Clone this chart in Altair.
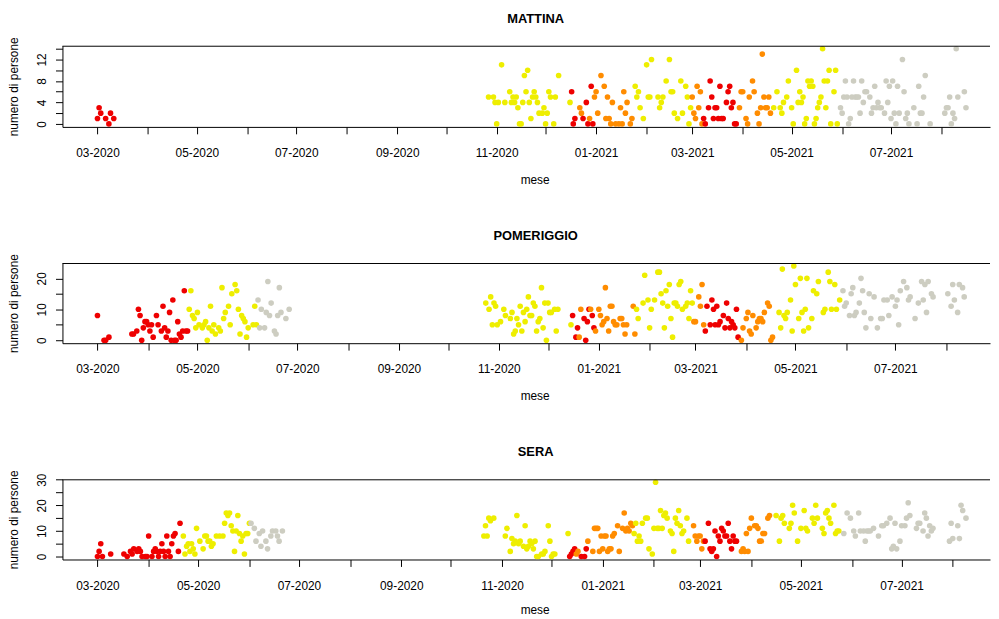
import altair as alt
import pandas as pd

BASE = pd.Timestamp("2020-03-01")  # giorno 0
FONT = "Liberation Sans"
ZONE = ["rossa", "arancione", "gialla", "bianca"]
COLORI = ["#EE0000", "#FF8C00", "#EEEE00", "#CDCDC1"]

# ---------------- MATTINA ----------------
mattina_rossa_giorni = [0, 1, 2, 5, 7, 8, 10,
                        291, 292, 293, 298, 300, 301, 303, 304,
                        372, 373, 375, 376, 377, 378, 379, 380, 381, 382, 383, 384, 386, 387, 388, 389, 390, 391, 392]
mattina_rossa_valori = [1, 3, 2, 1, 0, 2, 1,
                        6, 0, 1, 1, 4, 0, 7, 0,
                        1, 0, 3, 8, 5, 1, 3, 3, 1, 7, 1, 1, 4, 6, 7, 3, 4, 0, 0]
mattina_arancione_giorni = [296, 297, 302, 305, 306, 307, 309, 311, 312, 313, 314, 315, 316, 318, 320, 321, 322, 323, 324, 325, 327, 328,
                            365, 366, 367, 368, 369, 370, 371,
                            394, 395, 396, 398, 399, 400, 402, 403, 405, 406, 407, 408, 409, 410, 411, 412, 413]
mattina_arancione_valori = [3, 2, 1, 5, 6, 2, 9, 7, 1, 5, 1, 0, 4, 0, 0, 3, 0, 6, 2, 4, 0, 1,
                            5, 2, 1, 7, 3, 6, 0,
                            3, 6, 6, 1, 0, 5, 8, 6, 2, 0, 3, 13, 5, 3, 3, 5, 2]
mattina_gialla_giorni = [240, 243, 244, 245, 246, 248, 250, 253, 254, 255, 256, 257, 258, 259, 260, 261, 262, 263, 264, 265,
                         266, 267, 268, 269, 270, 271, 273, 274, 275, 276, 277, 278, 280, 281, 283, 290,
                         330, 331, 332, 333, 335, 337, 338, 339, 340, 344, 345, 346, 347, 349, 351, 352, 353, 354, 356, 358,
                         359, 361, 362, 363, 364,
                         415, 417, 419, 420, 421, 423, 424, 426, 427, 429, 430, 431, 432, 433, 434, 435, 436, 437, 438, 439,
                         440, 441, 442, 443, 444, 445, 446, 447, 448, 449, 450, 452, 453, 454]
mattina_gialla_valori = [5, 5, 4, 0, 4, 11, 4, 6, 4, 5, 4, 5, 3, 0, 0, 4, 9, 6, 10, 4,
                         1, 5, 6, 5, 4, 2, 2, 3, 0, 2, 6, 5, 0, 5, 9, 4,
                         7, 5, 6, 3, 1, 11, 5, 5, 12, 5, 3, 4, 5, 8, 12, 6, 6, 2, 1, 8,
                         2, 7, 5, 0, 3,
                         3, 6, 3, 2, 4, 5, 8, 3, 0, 10, 4, 6, 4, 5, 0, 1, 8, 7, 8, 7,
                         0, 1, 3, 4, 5, 14, 8, 3, 8, 10, 0, 6, 10, 0]
mattina_bianca_giorni = [456, 457, 458, 459, 460, 461, 462, 463, 464, 465, 466, 467, 468, 469, 470, 471, 472,
                         474, 475, 476, 477, 478, 479, 480, 481, 483, 484, 485, 486, 487,
                         488, 489, 490, 491, 492, 494, 495, 496, 497, 498, 501, 503, 504, 505, 506, 507, 508, 511,
                         520, 521, 522, 523, 524, 525, 526, 527, 528, 532, 533]
mattina_bianca_valori = [3, 2, 5, 8, 5, 0, 1, 5, 8, 5, 5, 5, 2, 8, 4, 6, 6,
                         5, 2, 3, 7, 3, 4, 3, 3, 2, 8, 4, 7, 1,
                         8, 2, 0, 7, 2, 12, 6, 1, 2, 0, 3, 0, 7, 2, 2, 5, 9, 0,
                         2, 3, 3, 5, 0, 2, 1, 14, 5, 6, 3]

# ---------------- POMERIGGIO ----------------
pomeriggio_rossa_giorni = [0, 4, 5, 7, 21, 22, 24, 25, 26, 27, 28, 29, 30, 31, 32, 33, 34, 36, 37, 39,
                           40, 41, 42, 43, 44, 45, 46, 47, 48, 49, 50, 51, 52, 53, 54, 55,
                           290, 292, 293, 297, 298, 299, 300, 302, 303,
                           371, 372, 374, 375, 376, 377, 378, 379, 380, 382, 383, 384, 385, 386, 387, 388, 389, 390, 391]
pomeriggio_rossa_valori = [8, 0, 0, 1, 2, 2, 3, 10, 8, 0, 4, 6, 6, 5, 3, 5, 1, 8, 5, 3,
                           11, 4, 1, 3, 9, 0, 13, 0, 0, 6, 2, 1, 3, 16, 3, 3,
                           8, 1, 4, 7, 0, 6, 10, 8, 4,
                           3, 11, 5, 13, 10, 5, 11, 5, 6, 8, 4, 12, 7, 4, 6, 5, 4, 10, 1]
pomeriggio_arancione_giorni = [294, 295, 301, 304, 306, 307, 308, 309, 310, 311, 312, 313, 314, 315, 316, 317, 319, 320, 321, 322,
                               323, 327, 328,
                               364, 365, 367, 368, 369, 370,
                               393, 394, 396, 397, 398, 399, 400, 402, 403, 404, 405, 406, 407, 409, 410, 411, 412]
pomeriggio_arancione_valori = [1, 10, 10, 3, 10, 8, 5, 6, 17, 7, 3, 11, 11, 6, 5, 5, 7, 7, 5, 2,
                               5, 11, 2,
                               6, 6, 14, 11, 18, 5,
                               0, 4, 7, 9, 3, 2, 8, 4, 6, 7, 7, 6, 9, 12, 11, 0, 1]
pomeriggio_gialla_giorni = [56, 57, 58, 59, 60, 61, 62, 64, 65, 66, 67, 68, 69, 70, 71, 72, 74, 75, 76, 77,
                            78, 80, 81, 82, 84, 85, 86, 87, 88, 89, 90, 91, 92, 95, 96, 97,
                            237, 239, 240, 241, 242, 243, 244, 246, 248, 249, 252, 253, 254, 255, 256, 257, 258, 259, 260, 261,
                            262, 263, 264, 265, 266, 267, 268, 269, 270, 271, 272, 273, 274, 275, 276, 277, 279, 280, 281, 289,
                            329, 330, 333, 334, 336, 337, 338, 340, 342, 343, 344, 345, 346, 347, 348, 349, 350, 351, 352, 353,
                            354, 355, 356, 357, 359, 360, 361, 362, 363,
                            416, 417, 418, 419, 420, 421, 423, 424, 425, 426, 428, 429, 430, 431, 432, 433, 434, 436, 437, 439,
                            440, 443, 444, 446, 447, 448, 450, 451, 453]
pomeriggio_gialla_valori = [10, 16, 8, 7, 4, 9, 5, 4, 5, 6, 0, 4, 11, 3, 5, 2, 4, 3, 17, 7,
                            9, 11, 5, 15, 18, 16, 10, 2, 8, 7, 6, 1, 4, 5, 11, 5,
                            12, 10, 14, 5, 12, 11, 5, 6, 10, 8, 7, 9, 2, 3, 7, 5, 11, 3, 9, 6,
                            10, 14, 8, 8, 12, 11, 3, 6, 7, 17, 4, 12, 0, 12, 9, 9, 10, 3, 10, 5,
                            10, 7, 12, 21, 13, 4, 10, 13, 22, 22, 15, 12, 4, 16, 11, 18, 7, 1, 12, 12,
                            11, 18, 19, 10, 11, 12, 7, 16, 12,
                            9, 4, 23, 8, 7, 9, 13, 3, 24, 18, 7, 20, 9, 3, 10, 20, 4, 7, 16, 15,
                            19, 9, 10, 22, 19, 10, 18, 10, 13]
pomeriggio_bianca_giorni = [98, 99, 100, 102, 103, 104, 105, 106, 108, 109, 110, 111, 112, 115, 117,
                            455, 456, 457, 459, 460, 461, 462, 463, 465, 466, 467, 468, 469, 471, 472, 474, 476, 478, 479, 480,
                            482, 483, 485, 487, 488, 489, 490, 492, 494, 495, 496, 499, 501, 503, 504, 505, 506, 507, 509, 510,
                            519, 521, 522, 523, 525, 526, 528, 529]
pomeriggio_bianca_valori = [13, 4, 10, 4, 9, 19, 8, 12, 3, 2, 8, 17, 9, 7, 10,
                            16, 11, 12, 8, 15, 17, 8, 9, 12, 20, 16, 9, 4, 15, 7, 14, 4, 7, 7, 13,
                            13, 8, 14, 11, 13, 5, 16, 19, 17, 13, 14, 7, 12, 19, 13, 18, 9, 19, 15, 14,
                            15, 11, 18, 13, 9, 18, 17, 14]

# ---------------- SERA ----------------
sera_rossa_giorni = [0, 1, 2, 3, 8, 16, 18, 20, 21, 22, 24, 25, 26, 27, 29, 30, 31, 33, 34, 35,
                     36, 37, 38, 39, 40, 41, 42, 43, 44, 45, 46, 47, 49, 50,
                     286, 287, 288, 289, 293, 295, 296,
                     368, 370, 371, 372, 373, 374, 375, 376, 377, 378, 379, 380, 381, 382, 383, 384, 385, 386, 387]
sera_rossa_valori = [0, 2, 5, 0, 1, 1, 0, 2, 1, 3, 2, 3, 2, 0, 0, 0, 8, 0, 2, 3,
                     2, 0, 2, 5, 2, 0, 8, 2, 0, 5, 8, 9, 2, 13,
                     0, 1, 2, 3, 0, 0, 3,
                     6, 13, 3, 2, 3, 10, 0, 8, 6, 11, 10, 8, 8, 13, 6, 3, 8, 6, 6]
sera_arancione_giorni = [290, 291, 297, 300, 301, 302, 303, 304, 305, 306, 307, 308, 309, 310, 311, 312, 313, 315, 316, 318,
                         319, 320, 321, 322, 323, 324,
                         361, 362, 363, 364, 365, 366, 367,
                         390, 391, 392, 393, 394, 395, 396, 398, 399, 400, 401, 402, 403, 404, 406, 407]
sera_arancione_valori = [1, 2, 6, 2, 11, 11, 11, 2, 8, 3, 8, 8, 2, 3, 3, 8, 9, 12, 2, 11,
                         17, 10, 11, 10, 13, 12,
                         12, 8, 6, 8, 8, 3, 6,
                         2, 3, 2, 9, 2, 11, 15, 12, 12, 11, 6, 6, 9, 9, 15, 16]
sera_gialla_giorni = [52, 53, 54, 55, 56, 57, 58, 59, 60, 62, 64, 65, 66, 67, 68, 69, 70, 72, 74, 76,
                      77, 78, 79, 80, 81, 82, 83, 84, 85, 86, 87, 88, 89, 90, 91, 92,
                      234, 235, 236, 237, 238, 240, 247, 248, 250, 251, 252, 253, 254, 255, 256, 258, 259, 260, 261, 262,
                      263, 264, 265, 266, 267, 269, 270, 271, 273, 274, 275, 276, 277, 285,
                      325, 326, 327, 328, 329, 330, 332, 333, 334, 336, 337, 338, 339, 340, 341, 342, 343, 344, 345, 347,
                      348, 349, 350, 351, 352, 353, 354, 355, 357, 358,
                      411, 413, 414, 415, 416, 419, 420, 421, 422, 424, 426, 428, 429, 430, 433, 434, 435, 436, 439, 440,
                      441, 442, 443, 444, 446, 447, 448, 449]
sera_gialla_valori = [8, 1, 4, 5, 2, 5, 3, 1, 11, 6, 3, 8, 8, 6, 6, 4, 5, 8, 8, 8,
                      13, 17, 16, 17, 12, 10, 2, 10, 16, 9, 6, 8, 1, 9, 9, 13,
                      8, 12, 8, 15, 14, 15, 8, 11, 2, 7, 5, 6, 16, 5, 6, 4, 12, 3, 4, 6,
                      5, 3, 6, 0, 0, 1, 1, 2, 12, 6, 0, 1, 1, 9,
                      9, 13, 6, 8, 6, 13, 15, 15, 3, 1, 11, 29, 11, 11, 18, 11, 16, 17, 15, 10,
                      9, 2, 15, 13, 18, 12, 9, 10, 15, 6,
                      16, 6, 15, 16, 13, 11, 13, 20, 17, 6, 11, 18, 11, 10, 15, 13, 20, 15, 11, 9,
                      17, 18, 15, 13, 20, 9, 10, 10]
sera_bianca_giorni = [93, 95, 96, 98, 99, 100, 102, 103, 105, 106, 108, 109, 110, 112,
                      452, 454, 456, 458, 459, 461, 462, 464, 465, 466, 467, 468, 470, 473, 475, 476, 478, 480, 481, 482,
                      483, 484, 486, 487, 489, 490, 491, 492, 496, 497, 498, 500, 501, 502, 503, 504, 505, 506, 516, 517,
                      518, 521, 522, 523, 524, 526]
sera_bianca_valori = [13, 11, 6, 9, 4, 10, 6, 3, 8, 10, 10, 8, 6, 10,
                      9, 17, 15, 10, 8, 17, 10, 10, 6, 10, 10, 10, 11, 8, 12, 12, 13, 15, 3, 4,
                      13, 3, 6, 12, 12, 15, 21, 16, 11, 13, 13, 10, 17, 15, 8, 12, 10, 11, 6, 13,
                      7, 12, 7, 20, 18, 15]

# month ticks (labels every other month)
MESI = [(2020, m) for m in range(3, 13)] + [(2021, m) for m in range(1, 9)]

LARG = 937


def tabella(gruppi):
    righe = []
    for zona, giorni, valori in gruppi:
        assert len(giorni) == len(valori), (zona, len(giorni), len(valori))
        for g, v in zip(giorni, valori):
            d = BASE + pd.Timedelta(days=g)
            righe.append({"data": d.strftime("%Y-%m-%dT%H:%M:%S"), "persone": v, "zona": zona})
    return pd.DataFrame(righe).sort_values("data").reset_index(drop=True)


def dt(ts):
    t = pd.Timestamp(ts)
    return alt.DateTime(year=t.year, month=t.month, date=t.day, hours=t.hour, minutes=t.minute)


def pannello(titolo, df, y_dom, y_tick, y_passo, x_dom, altezza, mese_y):
    asse_x = alt.Axis(
        values=[alt.DateTime(year=a, month=m, date=1) for a, m in MESI],
        labelExpr="month(datum.value) % 2 === 0 ? timeFormat(datum.value, '%m-%Y') : ''",
        title="mese", grid=False, tickSize=7, labelPadding=23, labelBaseline="alphabetic",
        labelFont=FONT, labelFontSize=12, labelColor="black", labelOverlap=False, labelFlush=False,
        titleFont=FONT, titleFontSize=12, titleFontWeight="normal", titleColor="black",
        titleBaseline="alphabetic", titleY=mese_y, titleX=477,
        domainColor="black", tickColor="black", domainWidth=1, tickWidth=1,
    )
    asse_y = alt.Axis(
        values=y_tick,
        labelExpr=f"datum.value % {y_passo} === 0 ? datum.label : ''",
        title="numero di persone", grid=False, tickSize=7, labelPadding=10,
        labelAngle=270, labelAlign="center", labelBaseline="alphabetic",
        labelFont=FONT, labelFontSize=12, labelColor="black", labelOverlap=False,
        titleFont=FONT, titleFontSize=12, titleFontWeight="normal", titleColor="black",
        titleAngle=270, titleAlign="center", titleBaseline="alphabetic",
        titleX=-45, titleY=altezza / 2,
        domainColor="black", tickColor="black", domainWidth=1, tickWidth=1,
    )
    punti = alt.Chart(df).mark_circle(size=32, opacity=1).encode(
        x=alt.X("data:T", scale=alt.Scale(domain=[dt(x_dom[0]), dt(x_dom[1])]), axis=asse_x),
        y=alt.Y("persone:Q", scale=alt.Scale(domain=y_dom, nice=False, zero=False), axis=asse_y),
        color=alt.Color("zona:N", scale=alt.Scale(domain=ZONE, range=COLORI), legend=None),
    )
    bordo = alt.Chart(pd.DataFrame({"b": [0]})).mark_rule(color="black", strokeWidth=1).encode(
        x=alt.value(0), x2=alt.value(LARG), y=alt.value(0.5)
    )
    return alt.layer(punti, bordo).properties(
        width=LARG, height=altezza,
        title=alt.TitleParams(titolo, font=FONT, fontSize=13, fontWeight="bold", color="black",
                              anchor="middle", frame="group", dx=9.5, offset=1, baseline="alphabetic"),
    )


df_m = tabella([("rossa", mattina_rossa_giorni, mattina_rossa_valori),
                ("arancione", mattina_arancione_giorni, mattina_arancione_valori),
                ("gialla", mattina_gialla_giorni, mattina_gialla_valori),
                ("bianca", mattina_bianca_giorni, mattina_bianca_valori)])
df_p = tabella([("rossa", pomeriggio_rossa_giorni, pomeriggio_rossa_valori),
                ("arancione", pomeriggio_arancione_giorni, pomeriggio_arancione_valori),
                ("gialla", pomeriggio_gialla_giorni, pomeriggio_gialla_valori),
                ("bianca", pomeriggio_bianca_giorni, pomeriggio_bianca_valori)])
df_s = tabella([("rossa", sera_rossa_giorni, sera_rossa_valori),
                ("arancione", sera_arancione_giorni, sera_arancione_valori),
                ("gialla", sera_gialla_giorni, sera_gialla_valori),
                ("bianca", sera_bianca_giorni, sera_bianca_valori)])

p1 = pannello("MATTINA", df_m, [-0.56, 14.56], list(range(0, 15, 2)), 4,
              ("2020-02-08 12:00", "2021-08-30 18:00"), 82, 57)
p2 = pannello("POMERIGGIO", df_p, [-0.96, 24.96], list(range(0, 25, 5)), 10,
              ("2020-02-08 15:00", "2021-08-27 18:00"), 81, 57)
p3 = pannello("SERA", df_s, [-1.16, 30.16], list(range(0, 31, 5)), 10,
              ("2020-02-08 19:00", "2021-08-23 13:00"), 81, 55)

chart = alt.vconcat(p1, p2, p3, spacing=137.5, bounds="flush").properties(
    padding={"left": 0, "top": 1, "right": 0, "bottom": 0}
).configure_view(stroke=None)

chart.save("out.html", embed_options={"renderer": "svg", "actions": False})
